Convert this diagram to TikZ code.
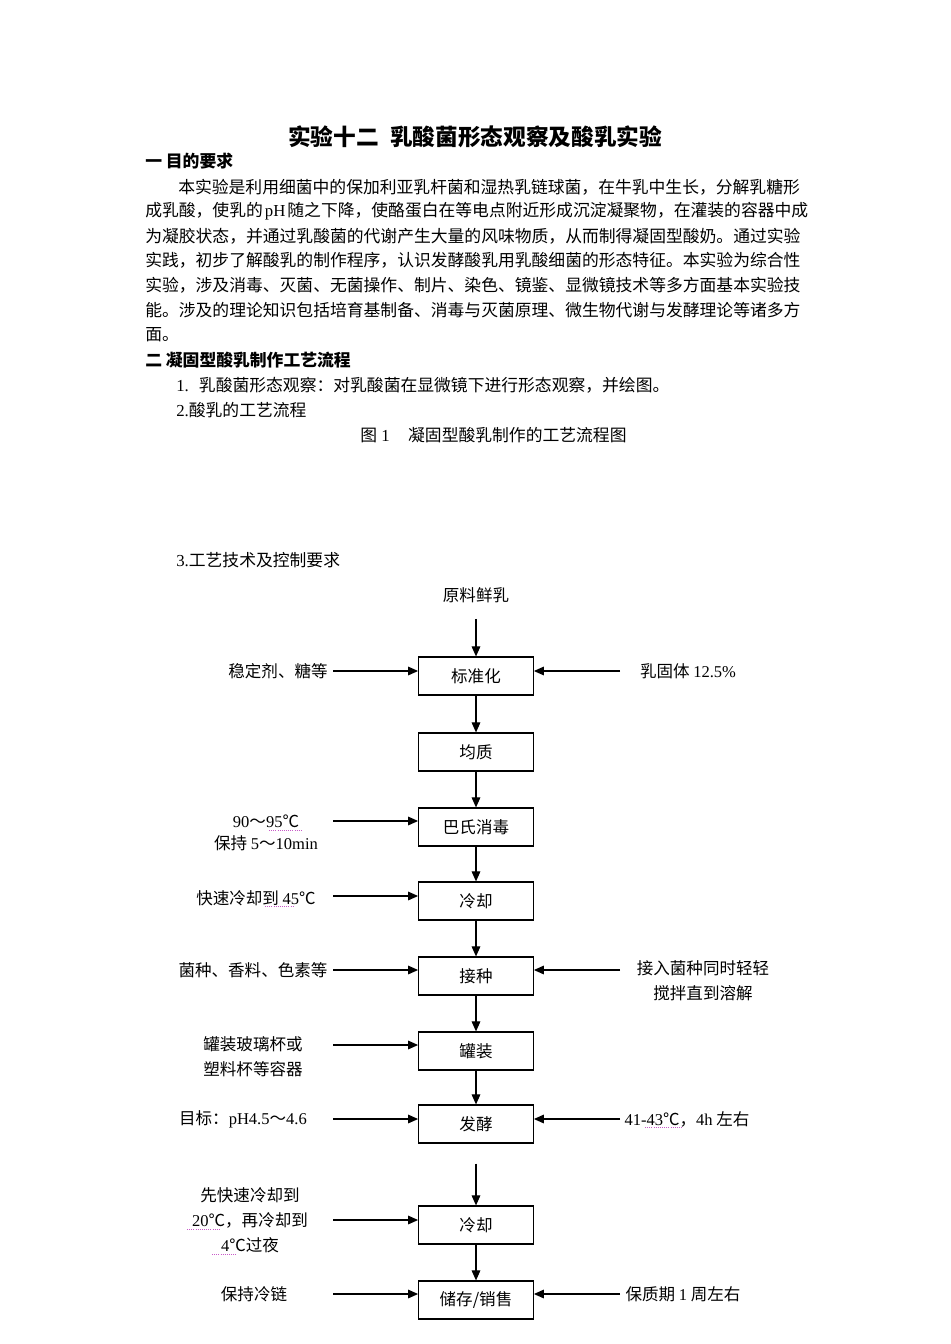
\documentclass[tikz,border=0pt]{standalone}
\usepackage{fontspec}
\setmainfont{Noto Sans CJK SC}
\newfontfamily\latin{Liberation Serif}
\usepackage{tikz}
\usetikzlibrary{arrows.meta}
\usetikzlibrary{positioning}
\usepackage{xcolor}
\definecolor{spellmark}{RGB}{200,90,200}
\newcommand{\flowfont}{\fontsize{12.4}{18.75}\selectfont}
\newcommand{\bodyfont}{\fontsize{12.6}{18}\selectfont}
\tikzset{
    procbox/.style={
        draw,
        rectangle,
        line width=0.9pt,
        minimum width=86pt,
        minimum height=28.5pt,
        inner sep=0pt,
        font=\flowfont
    },
    note/.style={
        align=center,
        inner sep=0pt,
        font=\flowfont
    },
    flow/.style={
        draw,
        -{Triangle[length=7.5pt, width=6.5pt]},
        line width=0.8pt
    },
    bodyline/.style={
        anchor=west,
        inner sep=0pt,
        font=\bodyfont
    },
    spell/.style={
        spellmark,
        densely dotted,
        line width=0.6pt
    }
}

\begin{document}
\begin{tikzpicture}[x=0.75pt, y=-0.75pt]
    \useasboundingbox (0,0) rectangle (950,1344);

    \node[inner sep=0pt, font=\fontsize{17}{20}\selectfont\bfseries] (title) at (475,137) {实验十二\hspace{0.5em}乳酸菌形态观察及酸乳实验};
    \node[bodyline, font=\bodyfont\bfseries] (sec1) at (145,161) {一 目的要求};
    \node[bodyline] (p1) at (178,187) {本实验是利用细菌中的保加利亚乳杆菌和湿热乳链球菌，在牛乳中生长，分解乳糖形};
    \node[bodyline] (p2) at (145,211) {成乳酸，使乳的\hspace{0.12em}{\latin pH}\hspace{0.12em}随之下降，使酪蛋白在等电点附近形成沉淀凝聚物，在灌装的容器中成};
    \node[bodyline] (p3) at (145,236) {为凝胶状态，并通过乳酸菌的代谢产生大量的风味物质，从而制得凝固型酸奶。通过实验};
    \node[bodyline] (p4) at (145,260) {实践，初步了解酸乳的制作程序，认识发酵酸乳用乳酸细菌的形态特征。本实验为综合性};
    \node[bodyline] (p5) at (145,285) {实验，涉及消毒、灭菌、无菌操作、制片、染色、镜鉴、显微镜技术等多方面基本实验技};
    \node[bodyline] (p6) at (145,310) {能。涉及的理论知识包括培育基制备、消毒与灭菌原理、微生物代谢与发酵理论等诸多方};
    \node[bodyline] (p7) at (145,335) {面。};
    \node[bodyline, font=\bodyfont\bfseries] (sec2) at (145,360) {二 凝固型酸乳制作工艺流程};
    \node[bodyline] (item1) at (176,385) {{\latin 1.}\hspace{0.6em}乳酸菌形态观察：对乳酸菌在显微镜下进行形态观察，并绘图。};
    \node[bodyline] (item2) at (176,410) {{\latin 2.}酸乳的工艺流程};
    \node[bodyline] (fig) at (360,435) {图{\latin\ 1}\hspace{1.1em}凝固型酸乳制作的工艺流程图};
    \node[bodyline] (item3) at (176,560) {{\latin 3.}工艺技术及控制要求};

    \node[note] (raw) at (476,595) {原料鲜乳};
    \node[procbox] (std) at (476,676) {标准化};
    \node[procbox] (hom) at (476,752) {均质};
    \node[procbox] (past) at (476,827) {巴氏消毒};
    \node[procbox] (cool) at (476,901) {冷却};
    \node[procbox] (inoc) at (476,976) {接种};
    \node[procbox] (can) at (476,1051) {罐装};
    \node[procbox] (ferm) at (476,1124) {发酵};
    \node[procbox] (chill) at (476,1225) {冷却};
    \node[procbox] (store) at (476,1300) {储存/销售};

    \draw[flow, shorten <=12pt] (raw) -- (std);
    \draw[flow] (std) -- (hom);
    \draw[flow] (hom) -- (past);
    \draw[flow] (past) -- (cool);
    \draw[flow] (cool) -- (inoc);
    \draw[flow] (inoc) -- (can);
    \draw[flow] (can) -- (ferm);
    \draw[flow, shorten <=15pt] (ferm) -- (chill); % arrow starts below the box
    \draw[flow] (chill) -- (store);

    \node[note] (stab) at (278,671) {稳定剂、糖等};
    \node[note, font=\fontsize{12.4}{16.5}\selectfont] (heat) at (266,833) {{\latin 90}～{\latin 95}℃\\保持 {\latin 5}～{\latin 10min}};
    \node[note] (fast) at (256,898) {快速冷却到 {\latin 45}℃};
    \node[note] (seed) at (253,970) {菌种、香料、色素等};
    \node[note] (cup) at (253,1057) {罐装玻璃杯或\\塑料杯等容器};
    \node[note] (goal) at (243,1119) {目标：{\latin pH4.5}～{\latin 4.6}};
    \node[note] (cold) at (250,1220) {先快速冷却到\\{\latin 20}℃，再冷却到\\{\latin 4}℃过夜};
    \node[note] (chain) at (254,1294) {保持冷链};

    \node[note] (solid) at (688,671) {乳固体 {\latin 12.5\%}};
    \node[note] (stir) at (703,981) {接入菌种同时轻轻\\搅拌直到溶解};
    \node[note] (temp) at (687,1119) {{\latin 41-43}℃，{\latin 4h} 左右};
    \node[note] (shelf) at (683,1294) {保质期 {\latin 1} 周左右};

    \coordinate (l1) at (333,671);
    \coordinate (l2) at (333,821);
    \coordinate (l3) at (333,896);
    \coordinate (l4) at (333,970);
    \coordinate (l5) at (333,1045);
    \coordinate (l6) at (333,1119);
    \coordinate (l7) at (333,1220);
    \coordinate (l8) at (333,1294);
    \draw[flow] (l1) -- (l1 -| std.west);
    \draw[flow] (l2) -- (l2 -| past.west);
    \draw[flow] (l3) -- (l3 -| cool.west);
    \draw[flow] (l4) -- (l4 -| inoc.west);
    \draw[flow] (l5) -- (l5 -| can.west);
    \draw[flow] (l6) -- (l6 -| ferm.west);
    \draw[flow] (l7) -- (l7 -| chill.west);
    \draw[flow] (l8) -- (l8 -| store.west);

    \coordinate (r1) at (620,671);
    \coordinate (r2) at (620,970);
    \coordinate (r3) at (620,1119);
    \coordinate (r4) at (620,1294);
    \draw[flow] (r1) -- (r1 -| std.east);
    \draw[flow] (r2) -- (r2 -| inoc.east);
    \draw[flow] (r3) -- (r3 -| ferm.east);
    \draw[flow] (r4) -- (r4 -| store.east);

    \draw[spell] (269,830) -- (302,830);
    \draw[spell] (265,906) -- (293,906);
    \draw[spell] (645,1127) -- (682,1127);
    \draw[spell] (187,1229) -- (220,1229);
    \draw[spell] (212,1254) -- (236,1254);
\end{tikzpicture}
\end{document}
